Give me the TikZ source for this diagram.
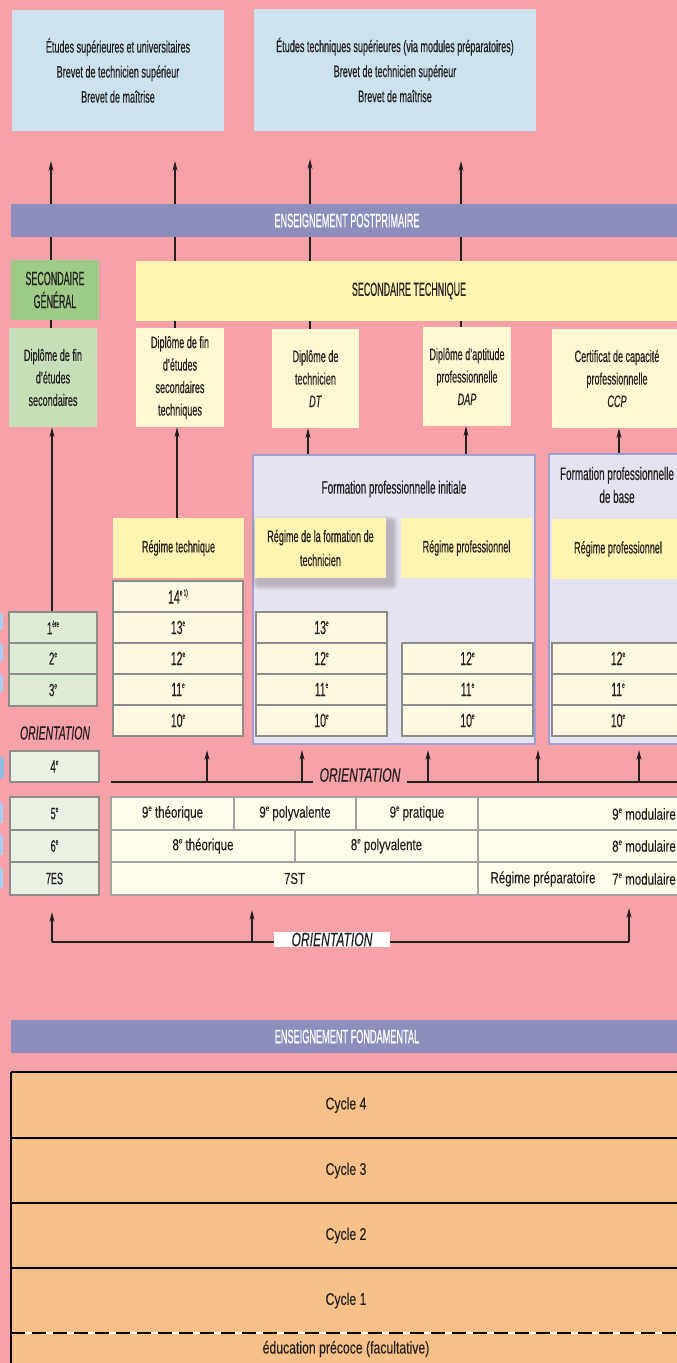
\documentclass[tikz,border=0pt]{standalone}
\usepackage{fontspec}
\setmainfont{Liberation Sans}
\newfontfamily\fcA{Liberation Sans}[FakeStretch=0.55,FakeBold=0.4]
\newfontfamily\fcB{Liberation Sans}[FakeStretch=0.47,FakeBold=0.4]
\newfontfamily\fcC{Liberation Sans}[FakeStretch=0.72,FakeBold=0.2]
\newfontfamily\fcD{Liberation Sans}[FakeStretch=0.62,FakeBold=0.3]
\usetikzlibrary{arrows.meta}
\definecolor{bgpink}{HTML}{F7A1A8}
\definecolor{topblue}{HTML}{CCE2EF}
\definecolor{barblue}{HTML}{8C8FBC}
\definecolor{sgreen}{HTML}{9FCB89}
\definecolor{dgreen}{HTML}{C7DFB9}
\definecolor{ggreen}{HTML}{DDEAD4}
\definecolor{lgreen}{HTML}{EAF2E3}
\definecolor{syellow}{HTML}{FFF4B1}
\definecolor{dcream}{HTML}{FFF8D3}
\definecolor{gcream}{HTML}{FFF9E1}
\definecolor{tcream}{HTML}{FFFCEB}
\definecolor{lav}{HTML}{E6E3F0}
\definecolor{lavline}{HTML}{9EA1CF}
\definecolor{gline}{HTML}{8C8C8C}
\definecolor{orng}{HTML}{F8C189}
\definecolor{ink}{HTML}{231F20}
\definecolor{sliver}{HTML}{A8D0EE}
\definecolor{sliverd}{HTML}{8CBFE3}
\newcommand\gsup[1]{\raisebox{0.42em}{\fontsize{8.5}{8.5}\selectfont #1}}
\newcommand\bxx[7]{\node[#6, minimum width={(#4-(#2))*1pt}, minimum height={(#5-(#3))*1pt}] (#1) at ({(#2+#4)/2},{(#3+#5)/2}) {#7};}
\pgfdeclarelayer{bottom}
\pgfdeclarelayer{background}
\pgfsetlayers{bottom,background,main}
\begin{document}
\begin{tikzpicture}[x=1pt,y=-1pt,
  every node/.style={inner sep=0pt, align=center, text=ink},
  body/.style={font=\fcA\fontsize{16.5}{22.5}\selectfont},
  topt/.style={font=\fcA\fontsize{16.5}{25}\selectfont},
  caps/.style={font=\fcB\fontsize{19}{23}\selectfont},
  bartxt/.style={font=\fcB\fontsize{19.5}{20}\selectfont, text=white},
  grd/.style={font=\fcA\fontsize{19}{19}\selectfont},
  grdl/.style={font=\fcA\fontsize{17.5}{18}\selectfont},
  tbl/.style={font=\fcC\fontsize{16}{16}\selectfont},
  cyc/.style={font=\fcC\fontsize{17}{17}\selectfont},
  orit/.style={font=\fcD\itshape\fontsize{19.5}{20}\selectfont},
  topbox/.style={fill=topblue},
  bar/.style={fill=barblue},
  secg/.style={fill=sgreen},
  sect/.style={fill=syellow},
  dipg/.style={fill=dgreen},
  dipy/.style={fill=dcream},
  lavbox/.style={fill=lav, draw=lavline, line width=1.5pt},
  reg/.style={fill=syellow},
  gcell/.style={fill=gcream, draw=gline, line width=1.2pt},
  lcell/.style={fill=ggreen, draw=gline, line width=1.2pt},
  l2cell/.style={fill=lgreen, draw=gline, line width=1.2pt},
  tcell/.style={fill=tcream, draw=gline!80, line width=1.2pt},
  cycbox/.style={fill=orng},
  arr/.style={-{Stealth[length=10pt,width=5pt]}, line width=1.1pt, draw=ink},
  oline/.style={line width=1.8pt, draw=ink}]
\useasboundingbox (0,0) rectangle (677,1363);
\begin{pgfonlayer}{bottom}
\fill[bgpink] (0,0) rectangle (677,1363);
\end{pgfonlayer}
\clip (0,0) rectangle (677,1363);
% left-edge slivers
\fill[sliver] (0,613) rectangle (2.5,630);
\fill[sliver] (0,644) rectangle (2.5,661);
\fill[sliver] (0,675) rectangle (2.5,692);
\fill[sliverd] (0,757) rectangle (3.5,778);
\fill[sliver] (0,803) rectangle (3,823);
\fill[sliver] (0,835) rectangle (3,855);
\fill[sliver] (0,868) rectangle (3,888);
% top boxes
\bxx{tb1}{12}{10}{224}{131}{topbox,topt}{Études supérieures et universitaires\\Brevet de technicien supérieur\\Brevet de maîtrise}
\bxx{tb2}{254}{9}{536}{131}{topbox,topt}{Études techniques supérieures (via modules préparatoires)\\Brevet de technicien supérieur\\Brevet de maîtrise}
% bar
\bxx{pp}{11}{204}{683}{237}{bar,bartxt}{ENSEIGNEMENT POSTPRIMAIRE}
% secondaire
\bxx{sg}{11}{260}{99}{320}{secg,caps}{SECONDAIRE\\GÉNÉRAL}
\bxx{st}{136}{261}{682}{321}{sect,caps}{SECONDAIRE TECHNIQUE}
% diplomas
\bxx{d1}{9}{328}{97}{427}{dipg,body}{Diplôme de fin\\d’études\\secondaires}
\bxx{d2}{136}{328}{224}{427}{dipy,body}{Diplôme de fin\\d’études\\secondaires\\techniques}
\bxx{d3}{272}{329}{359}{428}{dipy,body}{Diplôme de\\technicien\\\textit{DT}}
\bxx{d4}{423}{327}{511}{426}{dipy,body}{Diplôme d’aptitude\\professionnelle\\\textit{DAP}}
\bxx{d5}{552}{329}{682}{428}{dipy,body}{Certificat de capacité\\professionnelle\\\textit{CCP}}
% top arrows
\coordinate (xA) at (51,161);
\coordinate (xB) at (175,161);
\coordinate (xC) at (310,159);
\coordinate (xD) at (461,161);
\begin{pgfonlayer}{background}
\draw[arr] (xA |- d1.north) -- (xA);
\draw[arr] (xB |- d2.north) -- (xB);
\draw[arr] (xC |- d3.north) -- (xC);
\draw[arr] (xD |- d4.north) -- (xD);
\end{pgfonlayer}
% formation boxes
\bxx{fi}{253}{455}{535}{744}{lavbox}{}
\bxx{fb}{549}{454}{700}{744}{lavbox}{}
\node[body, font=\fcA\fontsize{18}{23}\selectfont] (fit) at (394,489) {Formation professionnelle initiale};
\node[body, font=\fcA\fontsize{18}{23}\selectfont] (fbt) at (617,485) {Formation professionnelle\\de base};
% regimes
\foreach \k in {1,...,6}
  \fill[black, opacity=0.035, rounded corners=\k pt] ({258-\k},{522-\k}) rectangle ({392+\k},{584+\k});
\bxx{rt}{113}{518}{244}{578}{reg,body}{Régime technique}
\bxx{rf}{255}{518}{386}{578}{reg,body,font=\fcA\fontsize{16.5}{24}\selectfont}{Régime de la formation de\\technicien}
\bxx{rp}{401}{518}{532}{578}{reg,body}{Régime professionnel}
\bxx{rb}{552}{519}{684}{579}{reg,body}{Régime professionnel}
% grade columns
\bxx{t14}{113}{581}{243}{612}{gcell,grd}{14\gsup{e 1)}}
\bxx{t13}{113}{612}{243}{643}{gcell,grd}{13\gsup{e}}
\bxx{t12}{113}{643}{243}{674}{gcell,grd}{12\gsup{e}}
\bxx{t11}{113}{674}{243}{705}{gcell,grd}{11\gsup{e}}
\bxx{t10}{113}{705}{243}{736}{gcell,grd}{10\gsup{e}}
\bxx{f13}{256}{612}{387}{643}{gcell,grd}{13\gsup{e}}
\bxx{f12}{256}{643}{387}{674}{gcell,grd}{12\gsup{e}}
\bxx{f11}{256}{674}{387}{705}{gcell,grd}{11\gsup{e}}
\bxx{f10}{256}{705}{387}{736}{gcell,grd}{10\gsup{e}}
\bxx{p12}{402}{643}{533}{674}{gcell,grd}{12\gsup{e}}
\bxx{p11}{402}{674}{533}{705}{gcell,grd}{11\gsup{e}}
\bxx{p10}{402}{705}{533}{736}{gcell,grd}{10\gsup{e}}
\bxx{b12}{552}{643}{684}{674}{gcell,grd}{12\gsup{e}}
\bxx{b11}{552}{674}{684}{705}{gcell,grd}{11\gsup{e}}
\bxx{b10}{552}{705}{684}{736}{gcell,grd}{10\gsup{e}}
% left column
\bxx{g1}{9}{612}{97}{643}{lcell,grdl}{1\gsup{ère}}
\bxx{g2}{9}{643}{97}{674}{lcell,grdl}{2\gsup{e}}
\bxx{g3}{9}{674}{97}{706}{lcell,grdl}{3\gsup{e}}
\node[orit, font=\fcA\itshape\fontsize{19}{19}\selectfont] (ori1) at (55,733) {ORIENTATION};
\bxx{g4}{10}{751}{99}{782}{l2cell,grdl}{4\gsup{e}}
% arrows into diplomas
\coordinate (v1) at (52,0);
\coordinate (v2) at (177,0);
\coordinate (v3) at (308,0);
\coordinate (v4) at (466,0);
\coordinate (v5) at (619,0);
\draw[arr] (v1 |- g1.north) -- (v1 |- d1.south);
\draw[arr] (v2 |- rt.north) -- (v2 |- d2.south);
\draw[arr] (v3 |- fi.north) -- (v3 |- d3.south);
\draw[arr] (v4 |- fi.north) -- (v4 |- d4.south);
\draw[arr] (v5 |- fb.north) -- (v5 |- d5.south);
% middle orientation
\node[orit, inner xsep=6.5pt] (ori2) at (360,775) {ORIENTATION};
\coordinate (o1) at (111,782);
\coordinate (o2) at (690,782);
\draw[oline] (o1) -- (o1 -| ori2.west);
\draw[oline] (ori2.east |- o2) -- (o2);
\coordinate (u1) at (207,750);
\coordinate (u2) at (302,750);
\coordinate (u3) at (428,750);
\coordinate (u4) at (538,750);
\coordinate (u5) at (639,750);
\foreach \u in {u1,u2,u3,u4,u5}
  \draw[arr] (\u |- o1) -- (\u);
% lower grades
\bxx{g5}{10}{797}{99}{830}{l2cell,grdl,font=\fcA\fontsize{16.5}{17}\selectfont}{5\gsup{e}}
\bxx{g6}{10}{830}{99}{862}{l2cell,grdl,font=\fcA\fontsize{16.5}{17}\selectfont}{6\gsup{e}}
\bxx{g7}{10}{862}{99}{895}{l2cell,grdl,font=\fcA\fontsize{16.5}{17}\selectfont}{7ES}
\bxx{r9a}{111}{797}{234}{830}{tcell,tbl}{9\gsup{e} théorique}
\bxx{r9b}{234}{797}{356}{830}{tcell,tbl}{9\gsup{e} polyvalente}
\bxx{r9c}{356}{797}{478}{830}{tcell,tbl}{9\gsup{e} pratique}
\bxx{r9d}{478}{797}{690}{830}{tcell,tbl}{}
\bxx{r8a}{111}{830}{295}{862}{tcell,tbl}{8\gsup{e} théorique}
\bxx{r8b}{295}{830}{478}{862}{tcell,tbl}{8\gsup{e} polyvalente}
\bxx{r8c}{478}{830}{690}{862}{tcell,tbl}{}
\bxx{r7a}{111}{862}{478}{895}{tcell,tbl}{7ST}
\bxx{r7b}{478}{862}{690}{895}{tcell,tbl}{}
\node[tbl, anchor=east] (m9) at (676,814) {9\gsup{e} modulaire};
\node[tbl, anchor=east] (m8) at (676,846) {8\gsup{e} modulaire};
\node[tbl, anchor=east] (m7) at (676,879) {7\gsup{e} modulaire};
\node[tbl] (rprep) at (543,879) {Régime préparatoire};
% bottom orientation
\coordinate (b1) at (52,912);
\coordinate (b2) at (252,910);
\coordinate (b3) at (629,908);
\coordinate (bl) at (52,942);
\coordinate (br) at (629,942);
\draw[line width=1.4pt, draw=ink] (bl) -- (br);
\draw[arr] (bl) -- (b1);
\draw[arr] (br) -- (b3);
\draw[arr] (b2 |- bl) -- (b2);
\node[orit, fill=white, minimum width=116pt, minimum height=15pt] (ori3) at (332,939.5) {ORIENTATION};
% fondamental
\bxx{ef}{11}{1020}{683}{1053}{bar,bartxt}{ENSEIGNEMENT FONDAMENTAL}
\bxx{c4}{11}{1072}{681}{1138}{cycbox,cyc}{Cycle 4}
\bxx{c3}{11}{1138}{681}{1203}{cycbox,cyc}{Cycle 3}
\bxx{c2}{11}{1203}{681}{1268}{cycbox,cyc}{Cycle 2}
\bxx{c1}{11}{1268}{681}{1333}{cycbox,cyc}{Cycle 1}
\bxx{ep}{11}{1333}{681}{1380}{cycbox}{}
\node[cyc] (ept) at (346,1349) {éducation précoce (facultative)};
\draw[line width=2pt] (c4.north west) -- (c4.north east);
\draw[line width=2pt] (c3.north west) -- (c3.north east);
\draw[line width=2pt] (c2.north west) -- (c2.north east);
\draw[line width=2pt] (c1.north west) -- (c1.north east);
\draw[line width=1.5pt] (c4.north west) -- (ep.south west);
\draw[white, line width=2pt] (ep.north west) -- (ep.north east);
\draw[black, line width=2pt, dash pattern=on 14pt off 7pt] (ep.north west) -- (ep.north east);
\end{tikzpicture}
\end{document}
